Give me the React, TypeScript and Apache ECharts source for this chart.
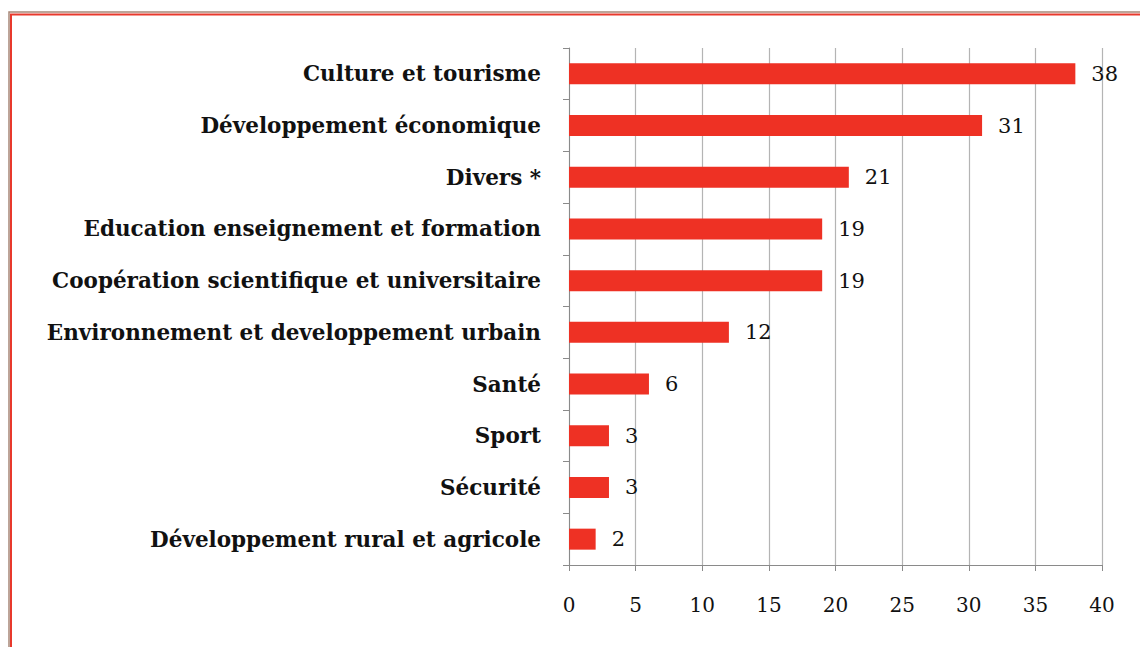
import React, { useEffect, useRef } from "react";
import * as echarts from "echarts";

const categories = [
  "Culture et tourisme",
  "Développement économique",
  "Divers *",
  "Education enseignement et formation",
  "Coopération scientifique et universitaire",
  "Environnement et developpement urbain",
  "Santé",
  "Sport",
  "Sécurité",
  "Développement rural et agricole",
];
const values = [38, 31, 21, 19, 19, 12, 6, 3, 3, 2];
const xTicks = { min: 0, max: 40, interval: 5 };

export default function App() {
  const ref = useRef<HTMLDivElement>(null);
  useEffect(() => {
    if (!ref.current) return;
    const chart = echarts.init(ref.current, null, { renderer: "svg" });
    const font = "DejaVu Serif";
    chart.setOption({
      animation: false,
      backgroundColor: "#ffffff",
      graphic: [
        {
          type: "rect",
          shape: { x: 9, y: 12, width: 1200, height: 800 },
          style: { fill: "none", stroke: "#a88878", lineWidth: 1.5 },
          silent: true,
        },
        {
          type: "rect",
          shape: { x: 11, y: 14.5, width: 1200, height: 800 },
          style: { fill: "none", stroke: "#e8392c", lineWidth: 2 },
          silent: true,
        },
      ],
      grid: { left: 569, right: 38, top: 48, bottom: 82 },
      xAxis: {
        type: "value",
        min: xTicks.min,
        max: xTicks.max,
        interval: xTicks.interval,
        axisLine: { show: true, lineStyle: { color: "#8a8a8a", width: 1 } },
        axisTick: { show: true, length: 6, lineStyle: { color: "#8a8a8a" } },
        splitLine: { show: true, lineStyle: { color: "#b4b4b4", width: 1.2 } },
        axisLabel: {
          margin: 30,
          fontFamily: font,
          fontSize: 20,
          color: "#111",
        },
      },
      yAxis: {
        type: "category",
        data: categories,
        inverse: true,
        axisLine: { show: true, lineStyle: { color: "#8a8a8a", width: 1 } },
        axisTick: { show: true, length: 6, lineStyle: { color: "#8a8a8a" } },
        axisLabel: {
          margin: 28,
          fontFamily: font,
          fontSize: 21.5,
          fontWeight: "bold",
          color: "#111",
        },
      },
      series: [
        {
          type: "bar",
          data: values,
          barWidth: 21,
          itemStyle: { color: "#ee3124" },
          label: {
            show: true,
            position: "right",
            distance: 16,
            fontFamily: font,
            fontSize: 21,
            color: "#111",
          },
        },
      ],
    });
    return () => chart.dispose();
  }, []);
  return <div ref={ref} style={{ width: 1140, height: 647, position: "absolute", left: 0, top: 0 }} />;
}
